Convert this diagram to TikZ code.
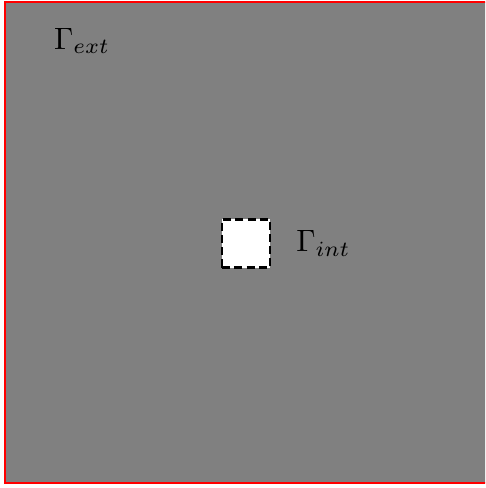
\documentclass[tikz,border=0pt]{standalone}
\usepackage{amsmath,amsfonts,amssymb}
\usepackage{tikz}
\usetikzlibrary{positioning}

\tikzset{
    outerdomain/.style={draw=red, fill=gray, line width=0.7pt},
    hole/.style={draw=black, fill=white, line width=0.6pt, dash pattern=on 2.3pt off 1.2pt, minimum size=13.7pt, inner sep=0pt},
    bndlabel/.style={inner sep=0pt, scale=0.88}
}

\begin{document}
\begin{tikzpicture}[x=0.285pt, y=-0.285pt]
    \useasboundingbox (0,0) rectangle (485,488);
    \clip (0,0) rectangle (485,488);
    % Outer domain
    \draw[outerdomain] (5,2) rectangle (520,483);
    % Interior hole
    \node[hole] (hole) at (246,243.5) {};
    % Labels
    \node[bndlabel] (gext) at (82,41) {$\Gamma_{ext}$};
    \node[bndlabel, right=7pt of hole] (gint) {$\Gamma_{int}$};
\end{tikzpicture}
\end{document}
